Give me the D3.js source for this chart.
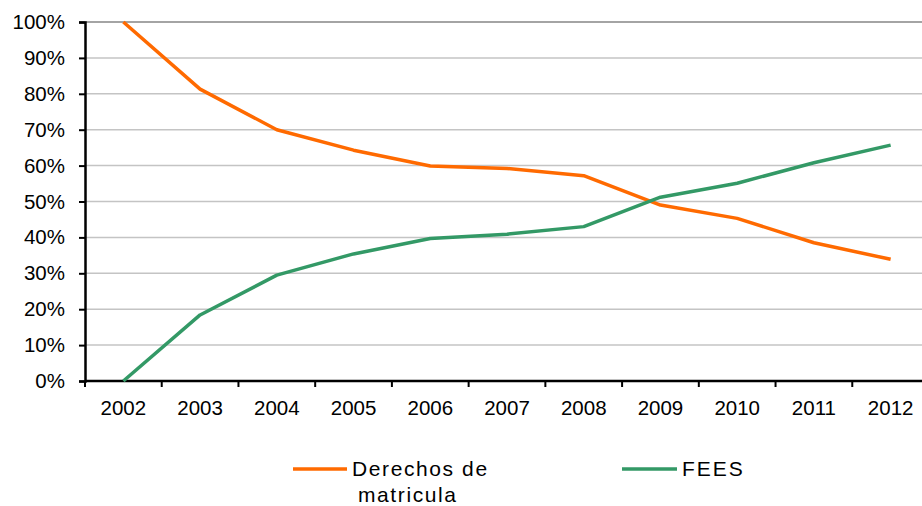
<!DOCTYPE html>
<html>
<head>
<meta charset="utf-8">
<script src="https://cdn.jsdelivr.net/npm/d3@7"></script>
<style>
  html, body { margin: 0; padding: 0; background: #fff; overflow: hidden; }
  svg { display: block; font-family: "Liberation Sans", Arial, sans-serif; }
</style>
</head>
<body>
<div id="chart"></div>
<script>
// Datos
const years = ["2002", "2003", "2004", "2005", "2006", "2007", "2008", "2009", "2010", "2011", "2012"]
const derechos = [100, 81.3, 70.0, 64.3, 59.9, 59.2, 57.2, 49.0, 45.3, 38.5, 33.9]
const fees = [0, 18.4, 29.5, 35.4, 39.7, 40.9, 43.0, 51.2, 55.1, 60.8, 65.7]
const yTicks = [0, 10, 20, 30, 40, 50, 60, 70, 80, 90, 100]

const width = 922, height = 506
const margin = { top: 22, right: -7, bottom: 125, left: 85 }
const innerWidth = width - margin.left - margin.right
const innerHeight = height - margin.top - margin.bottom

const svg = d3.select("#chart").append("svg")
    .attr("width", width)
    .attr("height", height)

const g = svg.append("g").attr("transform", `translate(${margin.left},${margin.top})`)

// Escalas
const x = d3.scaleBand().domain(years).range([0, innerWidth])
const y = d3.scaleLinear().domain([0, 100]).range([innerHeight, 0])

// Rejilla
g.append("g")
    .selectAll("line")
    .data(yTicks.filter(d => d > 0))
    .join("line")
    .attr("x1", 0).attr("x2", width - margin.left)
    .attr("y1", d => y(d)).attr("y2", d => y(d))
    .attr("stroke", d => d === 100 ? "#868686" : "#c4c4c4")
    .attr("stroke-width", 1.5)

// Eje Y
const yAxis = g.append("g")
    .call(d3.axisLeft(y).tickValues(yTicks).tickSize(6).tickFormat(d => d + "%"))
yAxis.select(".domain").attr("stroke", "#000").attr("stroke-width", 2.5)
yAxis.selectAll(".tick line").attr("stroke", "#000").attr("stroke-width", 2)
yAxis.selectAll(".tick text")
    .attr("x", -20)
    .attr("font-size", 20.5)
    .attr("fill", "#000")
    .attr("font-family", "Liberation Sans, Arial, sans-serif")

// Eje X
const xAxis = g.append("g")
    .attr("transform", `translate(0,${innerHeight})`)
    .call(d3.axisBottom(x).tickSize(0).tickPadding(19))
xAxis.select(".domain")
    .attr("d", `M0,0H${width - margin.left}`)
    .attr("stroke", "#000").attr("stroke-width", 2.5)
xAxis.selectAll(".tick text")
    .attr("font-size", 20.5)
    .attr("fill", "#000")
    .attr("font-family", "Liberation Sans, Arial, sans-serif")

// Marcas entre categorías
g.append("g")
    .selectAll("line")
    .data(years)
    .join("line")
    .attr("x1", d => x(d)).attr("x2", d => x(d))
    .attr("y1", innerHeight).attr("y2", innerHeight + 6)
    .attr("stroke", "#000")
    .attr("stroke-width", 2)

// Líneas
const series = [
    { name: "Derechos de matricula", values: derechos, color: "#ff6a00" },
    { name: "FEES", values: fees, color: "#339966" }
]

const line = d3.line()
    .x((d, i) => x(years[i]) + x.bandwidth() / 2)
    .y(d => y(d))

g.selectAll("path.serie")
    .data(series)
    .join("path")
    .attr("class", "serie")
    .attr("d", d => line(d.values))
    .attr("fill", "none")
    .attr("stroke", d => d.color)
    .attr("stroke-width", 3.5)
    .attr("stroke-linejoin", "round")

// Leyenda
const legend = svg.append("g").attr("font-size", 21)

legend.append("line")
    .attr("x1", 293).attr("x2", 347)
    .attr("y1", 469).attr("y2", 469)
    .attr("stroke", series[0].color).attr("stroke-width", 3.5)
legend.append("text")
    .attr("x", 352).attr("y", 476)
    .attr("letter-spacing", 1.6)
    .text("Derechos de")
legend.append("text")
    .attr("x", 358).attr("y", 502)
    .attr("letter-spacing", 1.6)
    .text("matricula")

legend.append("line")
    .attr("x1", 622).attr("x2", 677)
    .attr("y1", 469).attr("y2", 469)
    .attr("stroke", series[1].color).attr("stroke-width", 3.5)
legend.append("text")
    .attr("x", 682).attr("y", 476)
    .attr("letter-spacing", 2)
    .text("FEES")
</script>
</body>
</html>
